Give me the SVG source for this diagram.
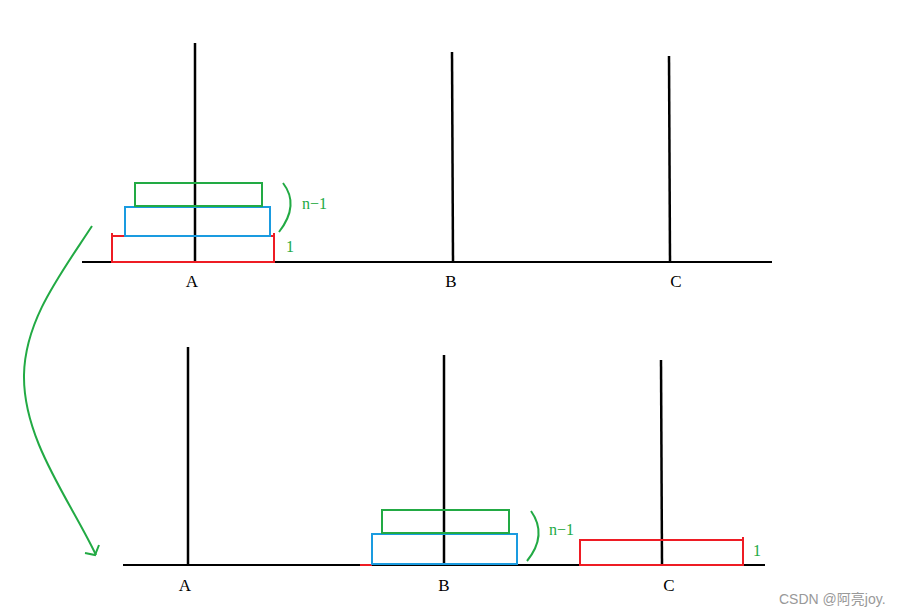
<svg xmlns="http://www.w3.org/2000/svg" width="911" height="616" viewBox="0 0 911 616">
<style>
.base{stroke:#000;stroke-width:2}
.pole{stroke:#000;stroke-width:2.5}
.g{fill:none;stroke:#22aa44;stroke-width:2}
.b{fill:none;stroke:#1a9be0;stroke-width:2}
.r{fill:none;stroke:#ee1c24;stroke-width:2}
.lbl{font-family:"Liberation Serif",serif;font-size:17px;fill:#000;text-anchor:middle}
.gt{font-family:"Liberation Serif",serif;font-size:16px;fill:#22aa44}
</style>
<rect width="911" height="616" fill="#fff"/>
<g id="top">
<line class="base" x1="82" y1="262" x2="772" y2="262"/>
<line class="pole" x1="195" y1="43" x2="195" y2="262"/>
<line class="pole" x1="452" y1="52" x2="453" y2="262"/>
<line class="pole" x1="669" y1="56" x2="670" y2="262"/>
<rect class="r" x="112" y="236" width="162" height="26"/>
<line class="r" x1="112" y1="233" x2="112" y2="239"/>
<line class="r" x1="274" y1="233" x2="274" y2="239"/>
<rect class="b" x="125" y="207" width="145" height="29"/>
<rect class="g" x="135" y="183" width="127" height="23"/>
<path class="g" d="M283,183 Q300,205 279,232"/>
<text class="gt" x="302" y="209">n−1</text>
<text class="gt" x="286" y="252">1</text>
<text class="lbl" x="192" y="287">A</text>
<text class="lbl" x="451" y="287">B</text>
<text class="lbl" x="676" y="287">C</text>
</g>
<g id="bottom">
<line class="base" x1="123" y1="565" x2="765" y2="565"/>
<line class="pole" x1="188" y1="347" x2="188" y2="565"/>
<line class="pole" x1="444" y1="355" x2="444" y2="565"/>
<line class="pole" x1="661" y1="360" x2="662" y2="565"/>
<line class="r" x1="360" y1="565" x2="372" y2="565"/>
<rect class="b" x="372" y="534" width="145" height="30"/>
<rect class="g" x="382" y="510" width="127" height="23"/>
<rect class="r" x="580" y="540" width="163" height="25"/>
<line class="r" x1="743" y1="537" x2="743" y2="543"/>
<path class="g" d="M531,511 Q548,535 527,561"/>
<text class="gt" x="549" y="535">n−1</text>
<text class="gt" x="753" y="556">1</text>
<text class="lbl" x="185" y="591">A</text>
<text class="lbl" x="444" y="591">B</text>
<text class="lbl" x="669" y="591">C</text>
</g>
<g id="connectors">
<path class="g" d="M92,226 C60,275 25,320 24,375 C23,440 70,500 96,555"/>
<path class="g" d="M99,545 L95,555 L85,553"/>
</g>
<text x="779" y="604" font-family="'Liberation Sans','Noto Sans CJK SC',sans-serif" font-size="14" fill="#999">CSDN @阿亮joy.</text>
</svg>
